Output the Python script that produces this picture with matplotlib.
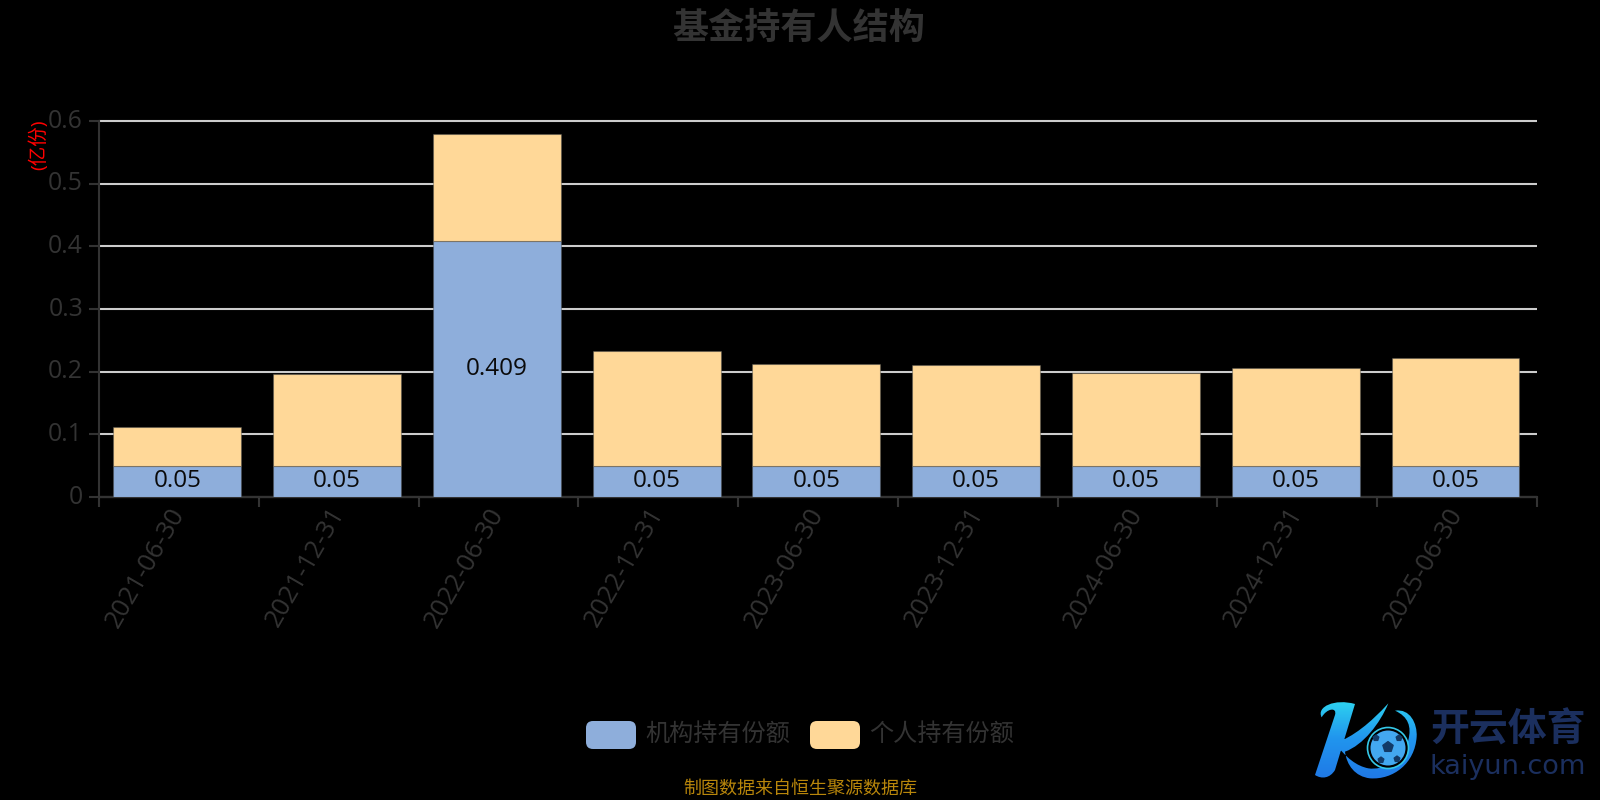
import matplotlib
matplotlib.use('Agg')
import numpy as np
import matplotlib.pyplot as plt
from matplotlib.colors import LinearSegmentedColormap
from matplotlib.patches import FancyBboxPatch, Circle, PathPatch
from matplotlib.path import Path
from matplotlib.transforms import ScaledTranslation

plt.rcParams['font.family'] = ['Open Sans', 'Noto Sans CJK SC', 'DejaVu Sans']

# data
dates = ['2021-06-30', '2021-12-31', '2022-06-30', '2022-12-31', '2023-06-30',
         '2023-12-31', '2024-06-30', '2024-12-31', '2025-06-30']
institution = [0.05, 0.05, 0.409, 0.05, 0.05, 0.05, 0.05, 0.05, 0.05]
personal = [0.061, 0.146, 0.170, 0.183, 0.163, 0.160, 0.148, 0.156, 0.172]
y_ticks = [0, 0.1, 0.2, 0.3, 0.4, 0.5, 0.6]
y_labels = ['0', '0.1', '0.2', '0.3', '0.4', '0.5', '0.6']
series_names = ['机构持有份额', '个人持有份额']

BLUE = '#8eaedb'
ORANGE = '#ffd898'
DARK = '#333333'

fig = plt.figure(figsize=(16, 8), dpi=100, facecolor='black')

# plot area in pixels: x 99-1537, y 121-497
ax = fig.add_axes([99 / 1600, 1 - 497 / 800, 1438 / 1600, 376 / 800], facecolor='black')
x = np.arange(len(dates))
bar_x = x - 0.01  # bars sit a touch left of the band centres
edge = (0.3, 0.3, 0.3, 0.45)
ax.bar(bar_x, institution, width=0.8, color=BLUE, edgecolor=edge, linewidth=0.8, zorder=3)
ax.bar(bar_x, personal, width=0.8, bottom=institution, color=ORANGE, edgecolor=edge, linewidth=0.8, zorder=3)

for xi, v in zip(bar_x, institution):
    ax.text(xi, v / 2, f'{v:g}', ha='center', va='center', fontsize=17.5, color='#0a0a0a', zorder=4)

ax.set_xlim(-0.5, len(dates) - 0.5)
ax.set_ylim(0, 0.6)
ax.set_yticks(y_ticks)
ax.set_yticklabels(y_labels)
ax.grid(axis='y', color='#cccccc', linewidth=1.5, zorder=1, clip_on=False, solid_capstyle='butt')
ax.set_axisbelow(True)

ax.set_xticks(x)
ax.set_xticklabels(dates, rotation=60, ha='right', va='center', rotation_mode='anchor')
ax.set_xticks(np.arange(len(dates) + 1) - 0.5, minor=True)
ax.tick_params(axis='x', which='major', length=0, pad=9, labelsize=18.5, labelcolor=DARK)
ax.tick_params(axis='x', which='minor', length=7, width=1.5, color=DARK)
ax.tick_params(axis='y', length=7, width=1.5, color=DARK, pad=4.5, labelsize=17.8, labelcolor=DARK)
up = ScaledTranslation(0, 3 / 100, fig.dpi_scale_trans)
for label in ax.get_yticklabels():
    label.set_transform(label.get_transform() + up)

for side in ['top', 'right']:
    ax.spines[side].set_visible(False)
for side in ['left', 'bottom']:
    ax.spines[side].set_color(DARK)
    ax.spines[side].set_linewidth(1.5)

# overlay in pixel coordinates for title, legend, footer and logo
page = fig.add_axes([0, 0, 1, 1], facecolor='none')
page.set_xlim(0, 1600)
page.set_ylim(800, 0)
page.axis('off')

page.text(799, 30, '基金持有人结构', ha='center', va='center', fontsize=26,
          fontweight='bold', color=DARK)
page.text(38.5, 145, '(亿份)', rotation=90, ha='center', va='center', fontsize=14, color='#ff0000')

for left, color, name in zip([586, 810], [BLUE, ORANGE], series_names):
    page.add_patch(FancyBboxPatch((left + 6, 721 + 6), 38, 16, boxstyle='round,pad=6,rounding_size=7',
                                  facecolor=color, edgecolor='none'))
    page.text(left + 59, 735, name, ha='left', va='center', fontsize=17.4, color=DARK)

page.text(800, 789, '制图数据来自恒生聚源数据库', ha='center', va='center', fontsize=13, color='#b8860b')


# logo, outline points taken from a 3x crop of its corner
def crop_xy(pts):
    return [(1280 + a / 3, 680 + b / 3) for a, b in pts]


M, L, C, Z = Path.MOVETO, Path.LINETO, Path.CURVE4, Path.CLOSEPOLY
k_pts = [(225, 72), (165, 270), (150, 295), (125, 298), (105, 285), (165, 105), (172, 80), (140, 85), (125, 112),
         (108, 80), (165, 55), (225, 72), (225, 72),
         (165, 190), (220, 170), (270, 130), (325, 70), (300, 130), (250, 195), (195, 215),
         (200, 255), (225, 290), (270, 295), (340, 300), (405, 250), (410, 170), (412, 130), (390, 85), (345, 92),
         (385, 110), (395, 140), (385, 180), (370, 240), (310, 272), (265, 265), (230, 258), (200, 235), (165, 190),
         (165, 190)]
k_codes = [M, L, C, C, C, L, C, C, C, C, C, C, Z] + [M] + [C] * 24 + [Z]
k_patch = PathPatch(Path(crop_xy(k_pts), k_codes), facecolor='none', edgecolor='none')
page.add_patch(k_patch)
cmap = LinearSegmentedColormap.from_list('logo', ['#2fdcf0', '#2196ee', '#1f78e6'])
grad = page.imshow(np.linspace(0, 1, 100).reshape(-1, 1), cmap=cmap, extent=(1310, 1420, 780, 695), aspect='auto')
grad.set_clip_path(k_patch)
page.set_xlim(0, 1600)
page.set_ylim(800, 0)

page.add_patch(Circle((1388, 748), 20.5, facecolor='black', edgecolor='#35c8e8', linewidth=1.2, zorder=4))
page.add_patch(Circle((1388, 748), 17.5, facecolor='#43a8f0', edgecolor='none', zorder=4))
page.scatter([1388, 1376, 1399, 1381, 1397], [747, 738, 738, 760, 759], marker='p', s=[60, 18, 18, 18, 18],
             color='#123a66', zorder=5)
page.text(1508, 730, '开云体育', ha='center', va='center', fontsize=28, color='#1b2f5e',
          family=['Noto Sans CJK SC'], fontweight='bold')
page.text(1508, 767, 'kaiyun.com', ha='center', va='center', fontsize=19.5, color='#1b2f5e',
          family='DejaVu Sans')

fig.savefig('out.png', dpi=100, facecolor='black')
